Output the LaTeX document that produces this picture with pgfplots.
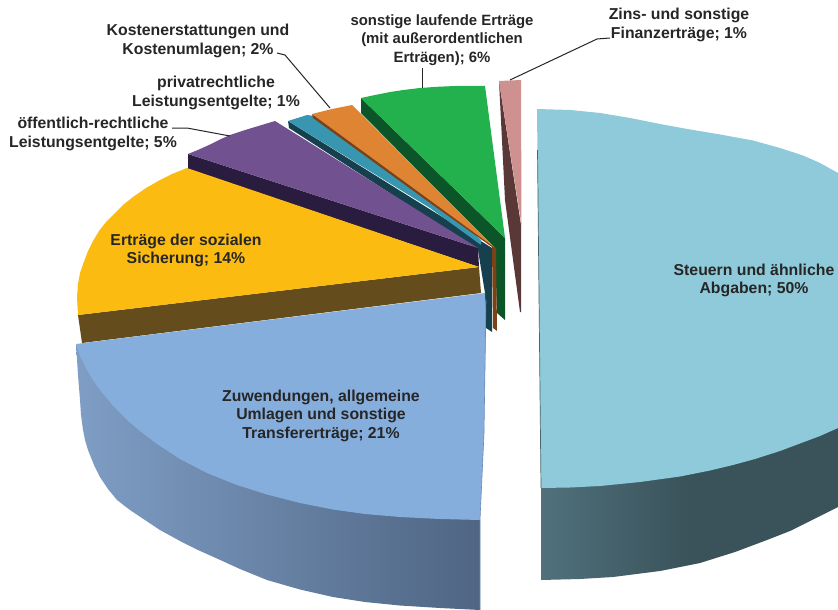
\documentclass[border=0pt]{standalone}
\usepackage{pgfplots}
\pgfplotsset{compat=1.18}
\usepackage{fontspec}
\setmainfont{Liberation Sans}
\definecolor{teal1}{HTML}{8ECAD9}
\definecolor{blue1}{HTML}{86AEDD}
\definecolor{yellow1}{HTML}{FBBB10}
\definecolor{brown1}{HTML}{654C1C}
\definecolor{purple1}{HTML}{71518F}
\definecolor{purple2}{HTML}{2A1C3E}
\definecolor{smteal1}{HTML}{3896B0}
\definecolor{smteal2}{HTML}{17404F}
\definecolor{orange1}{HTML}{DF8433}
\definecolor{orange2}{HTML}{7A4216}
\definecolor{green1}{HTML}{22B14C}
\definecolor{green2}{HTML}{0B5528}
\definecolor{pink1}{HTML}{CF9090}
\definecolor{pink2}{HTML}{5A3838}
\definecolor{txt}{HTML}{262626}
\definecolor{tealsideL}{HTML}{50717C}
\definecolor{tealsideR}{HTML}{3A525A}
\definecolor{bluesideL}{HTML}{7F9EC5}
\definecolor{bluesideR}{HTML}{4F6583}
\tikzset{lab/.style={font=\fontsize{15.8}{18.5}\selectfont\bfseries, text=txt, align=center, inner sep=0pt}}
\begin{document}
\begin{tikzpicture}
\begin{axis}[
  scale only axis, width=838pt, height=610pt,
  xmin=0, xmax=838, ymin=0, ymax=610, y dir=reverse,
  hide axis, clip=true,
]
\addplot[fill=white, draw=none] coordinates {(0,0)(838,0)(838,610)(0,610)};
% Finanzertraege
\addplot[fill=pink2, draw=none] coordinates {(499,81)(521,225)(521,312)(520,312)(505,200)};
\addplot[fill=pink1, draw=none] coordinates {(499,81)(521,80)(521.5,225)};
% Steuern side and top
\addplot[left color=tealsideL, right color=tealsideR, middle color=tealsideR, draw=none] coordinates {(541,488)(541,580)(580,579)(613,577)(660,571)(700,563)(735,552)(767,540)(790,531)(810,521)(838,507)(838,428)};
\addplot[fill=teal1, draw=none] coordinates {(537,109)(570,110)(600,113)(630,118)(660,124)(690,129.5)(720,134.5)(753,140.5)(780,148)(803,155.5)(820,163)(838,173)(838,428)(820,436)(800,443.5)(780,451)(755,459)(733,465)(710,470.5)(680,476.5)(640,482)(600,486)(570,487.5)(541,488)};
\addplot[draw=teal1!50!black, line width=0.7pt] coordinates {(537.5,150)(541,488)};
% sonstige laufende
\addplot[fill=green2, draw=none] coordinates {(361,98)(361,113)(430,183)(495,248)(497,313)(505,320)(505,238)};
\addplot[fill=green1, draw=none] coordinates {(361,98)(375,95)(390,92)(405,89.8)(420,88)(437,86.8)(455,86)(470,85.8)(485,86)(505,238)};
% privatrechtliche
\addplot[fill=smteal2, draw=none] coordinates {(288,121)(289,128)(430,219)(478,250)(485,293)(486,328)(492,332)(492,248)};
\addplot[fill=smteal1, draw=none] coordinates {(288,121)(307,115)(330,118)(430,195)(481,240)(481,245)(430,208)};
% Kostenerstattungen
\addplot[fill=orange2, draw=none] coordinates {(312,114)(313,118)(430,203)(492,247)(493,328)(497,331)(496,248)};
\addplot[fill=orange1, draw=none] coordinates {(312,114)(322,111.5)(332,109)(342,107)(352,105)(430,183)(494,247)};
% oeffentlich-rechtliche
\addplot[fill=purple2, draw=none] coordinates {(188,154)(188,169)(479,267)(478,248)};
\addplot[fill=purple1, draw=none] coordinates {(188,154)(199,149.5)(210,144.5)(220,139.5)(230,135)(242,131)(255,127)(265,124)(275,121)(478,248)};
% soziale Sicherung
\addplot[fill=brown1, draw=none] coordinates {(78,315)(82,343)(481,293)(479,267)};
\addplot[fill=yellow1, draw=none] coordinates {(187,168)(172,174)(160,180)(146,188)(133,197)(123,205)(114,214)(106,222)(99,231)(93,241)(88,251)(83.5,263)(80,273)(78,284)(77,297)(77.5,306)(78,315)(479,267)};
% Zuwendungen
\addplot[left color=bluesideL, right color=bluesideR, draw=none] coordinates {(76,344)(78,375)(80,400)(81,415)(83,430)(85,440)(88,450)(94,465)(100,477)(108,489)(117,500)(130,510)(145,520)(160,530)(180,541)(198,550)(217,558.5)(240,569)(267,580)(300,589.5)(333,597)(365,602)(400,605.5)(440,608)(480,610)(480,520)};
\addplot[fill=blue1, draw=none] coordinates {(76,344)(485,293)(486,317)(484,433)(480,520)(440,519)(400,517)(365,514)(333,509.5)(300,503)(267,494.5)(237,485)(207,473)(180,459)(157,444)(140,431)(127,420)(112,404.5)(100,390)(92,378.5)(87,370)(80,356)};
\addplot[draw=blue1!80!black, line width=0.6pt] coordinates {(486,300)(484,433)(480,520)(480,610)};
% leader lines
\addplot[draw=txt, line width=1pt] coordinates {(510,80)(597,39)(610,38)};
\addplot[draw=txt, line width=1pt] coordinates {(422,68)(422,88)};
\addplot[draw=txt, line width=1pt] coordinates {(277,53)(285,55)(330,108)};
\addplot[draw=txt, line width=1pt] coordinates {(172,128)(187,128)(230,136)};
% labels
\node[lab] at (axis cs:198,41) {Kostenerstattungen und\\Kostenumlagen; 2\%};
\node[lab] at (axis cs:216,93) {privatrechtliche\\Leistungsentgelte; 1\%};
\node[lab] at (axis cs:93,134) {öffentlich-rechtliche\\Leistungsentgelte; 5\%};
\node[lab] at (axis cs:186,250.5) {Erträge der sozialen\\Sicherung; 14\%};
\node[lab, font=\fontsize{14.9}{18.5}\selectfont\bfseries] at (axis cs:442,40) {sonstige laufende Erträge\\(mit außerordentlichen\\Erträgen); 6\%};
\node[lab] at (axis cs:679,25) {Zins- und sonstige\\Finanzerträge; 1\%};
\node[lab] at (axis cs:754,280.5) {Steuern und ähnliche\\Abgaben; 50\%};
\node[lab] at (axis cs:321,415.5) {Zuwendungen, allgemeine\\Umlagen und sonstige\\Transfererträge; 21\%};
\end{axis}
\end{tikzpicture}
\end{document}
